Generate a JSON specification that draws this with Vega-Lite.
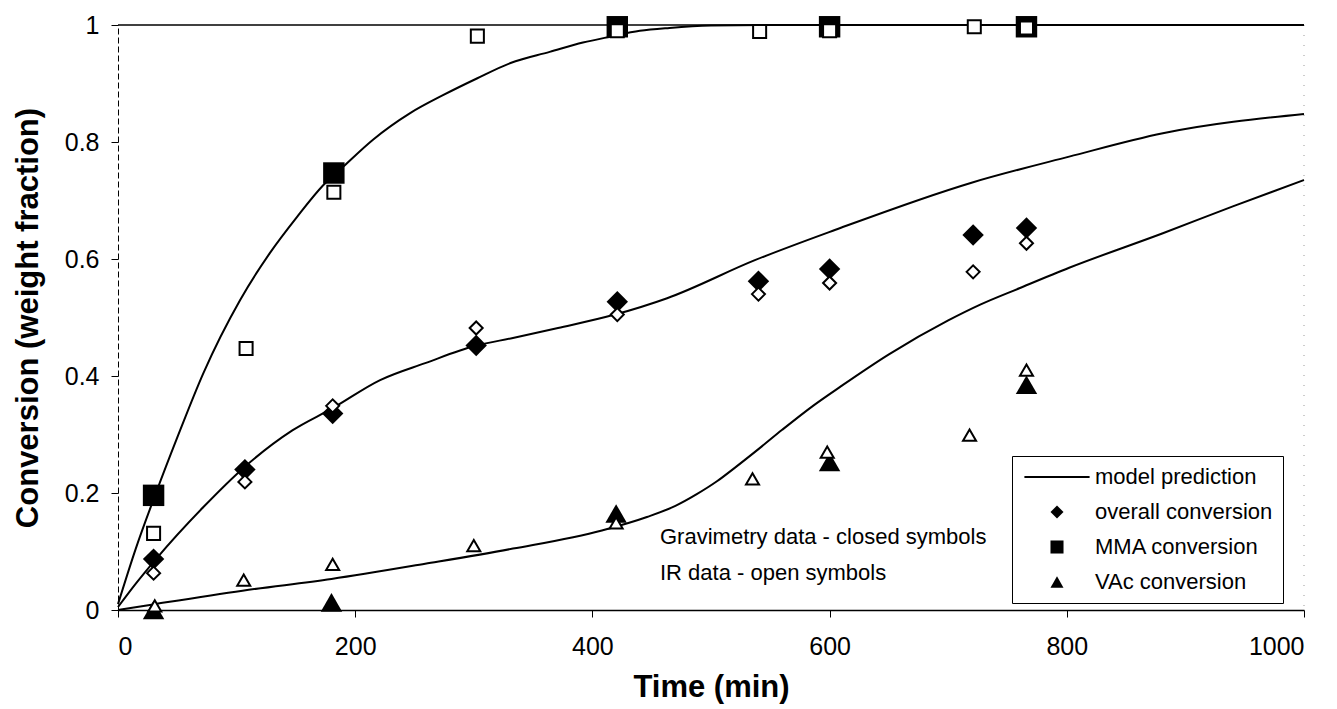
{
  "$schema": "https://vega.github.io/schema/vega-lite/v6.json",
  "width": 1186,
  "height": 585,
  "autosize": {"type": "none"},
  "padding": {"left": 118, "top": 25, "right": 33, "bottom": 99},
  "background": "white",
  "config": {
    "view": {"stroke": null},
    "font": "Liberation Sans",
    "axis": {
      "labelFont": "Liberation Sans",
      "labelFontSize": 25,
      "labelColor": "black",
      "titleFont": "Liberation Sans",
      "titleFontSize": 31,
      "titleFontWeight": "bold",
      "titleColor": "black",
      "domainColor": "black",
      "tickColor": "black",
      "tickSize": 7,
      "grid": false
    }
  },
  "datasets": {
    "model": [
      {"curve": "MMA", "t": 0, "v": 0.01},
      {"curve": "MMA", "t": 15, "v": 0.105},
      {"curve": "MMA", "t": 32, "v": 0.2},
      {"curve": "MMA", "t": 50, "v": 0.295},
      {"curve": "MMA", "t": 72, "v": 0.405},
      {"curve": "MMA", "t": 103, "v": 0.53},
      {"curve": "MMA", "t": 128, "v": 0.61},
      {"curve": "MMA", "t": 151, "v": 0.672},
      {"curve": "MMA", "t": 173, "v": 0.726},
      {"curve": "MMA", "t": 190, "v": 0.758},
      {"curve": "MMA", "t": 215, "v": 0.804},
      {"curve": "MMA", "t": 246, "v": 0.849},
      {"curve": "MMA", "t": 274, "v": 0.88},
      {"curve": "MMA", "t": 303, "v": 0.909},
      {"curve": "MMA", "t": 331, "v": 0.935},
      {"curve": "MMA", "t": 364, "v": 0.954},
      {"curve": "MMA", "t": 392, "v": 0.97},
      {"curve": "MMA", "t": 415, "v": 0.98},
      {"curve": "MMA", "t": 440, "v": 0.99},
      {"curve": "MMA", "t": 465, "v": 0.995},
      {"curve": "MMA", "t": 500, "v": 0.999},
      {"curve": "MMA", "t": 550, "v": 1},
      {"curve": "MMA", "t": 1000, "v": 1},
      {"curve": "overall", "t": 0, "v": 0.005},
      {"curve": "overall", "t": 15, "v": 0.045},
      {"curve": "overall", "t": 32, "v": 0.087},
      {"curve": "overall", "t": 72, "v": 0.176},
      {"curve": "overall", "t": 107, "v": 0.245},
      {"curve": "overall", "t": 147, "v": 0.307},
      {"curve": "overall", "t": 181, "v": 0.345},
      {"curve": "overall", "t": 221, "v": 0.393},
      {"curve": "overall", "t": 259, "v": 0.422},
      {"curve": "overall", "t": 302, "v": 0.452},
      {"curve": "overall", "t": 333, "v": 0.465},
      {"curve": "overall", "t": 371, "v": 0.482},
      {"curve": "overall", "t": 419, "v": 0.505},
      {"curve": "overall", "t": 463, "v": 0.533},
      {"curve": "overall", "t": 537, "v": 0.598},
      {"curve": "overall", "t": 605, "v": 0.65},
      {"curve": "overall", "t": 719, "v": 0.73},
      {"curve": "overall", "t": 802, "v": 0.775},
      {"curve": "overall", "t": 881, "v": 0.815},
      {"curve": "overall", "t": 1000, "v": 0.848},
      {"curve": "VAc", "t": 0, "v": 0},
      {"curve": "VAc", "t": 31, "v": 0.01},
      {"curve": "VAc", "t": 105, "v": 0.033},
      {"curve": "VAc", "t": 180, "v": 0.053},
      {"curve": "VAc", "t": 259, "v": 0.079},
      {"curve": "VAc", "t": 333, "v": 0.105},
      {"curve": "VAc", "t": 408, "v": 0.136},
      {"curve": "VAc", "t": 446, "v": 0.159},
      {"curve": "VAc", "t": 470, "v": 0.178},
      {"curve": "VAc", "t": 488, "v": 0.198},
      {"curve": "VAc", "t": 505, "v": 0.22},
      {"curve": "VAc", "t": 520, "v": 0.243},
      {"curve": "VAc", "t": 540, "v": 0.275},
      {"curve": "VAc", "t": 560, "v": 0.308},
      {"curve": "VAc", "t": 586, "v": 0.349},
      {"curve": "VAc", "t": 610, "v": 0.383},
      {"curve": "VAc", "t": 650, "v": 0.437},
      {"curve": "VAc", "t": 700, "v": 0.495},
      {"curve": "VAc", "t": 727, "v": 0.522},
      {"curve": "VAc", "t": 760, "v": 0.55},
      {"curve": "VAc", "t": 802, "v": 0.585},
      {"curve": "VAc", "t": 881, "v": 0.644},
      {"curve": "VAc", "t": 940, "v": 0.69},
      {"curve": "VAc", "t": 1000, "v": 0.735}
    ],
    "points": [
      {"series": "overall conversion", "method": "gravimetry", "t": 30, "v": 0.087},
      {"series": "overall conversion", "method": "gravimetry", "t": 107, "v": 0.24},
      {"series": "overall conversion", "method": "gravimetry", "t": 181, "v": 0.336},
      {"series": "overall conversion", "method": "gravimetry", "t": 302, "v": 0.452},
      {"series": "overall conversion", "method": "gravimetry", "t": 421, "v": 0.527},
      {"series": "overall conversion", "method": "gravimetry", "t": 540, "v": 0.562},
      {"series": "overall conversion", "method": "gravimetry", "t": 600, "v": 0.583},
      {"series": "overall conversion", "method": "gravimetry", "t": 721, "v": 0.641},
      {"series": "overall conversion", "method": "gravimetry", "t": 766, "v": 0.653},
      {"series": "MMA conversion", "method": "gravimetry", "t": 30, "v": 0.196},
      {"series": "MMA conversion", "method": "gravimetry", "t": 182, "v": 0.747},
      {"series": "MMA conversion", "method": "gravimetry", "t": 421, "v": 0.997},
      {"series": "MMA conversion", "method": "gravimetry", "t": 600, "v": 0.997},
      {"series": "MMA conversion", "method": "gravimetry", "t": 766, "v": 0.997},
      {"series": "VAc conversion", "method": "gravimetry", "t": 30, "v": 0.0},
      {"series": "VAc conversion", "method": "gravimetry", "t": 180, "v": 0.013},
      {"series": "VAc conversion", "method": "gravimetry", "t": 420, "v": 0.165},
      {"series": "VAc conversion", "method": "gravimetry", "t": 600, "v": 0.253},
      {"series": "VAc conversion", "method": "gravimetry", "t": 766, "v": 0.385},
      {"series": "overall conversion", "method": "IR", "t": 30, "v": 0.063},
      {"series": "overall conversion", "method": "IR", "t": 107, "v": 0.219},
      {"series": "overall conversion", "method": "IR", "t": 181, "v": 0.349},
      {"series": "overall conversion", "method": "IR", "t": 302, "v": 0.482},
      {"series": "overall conversion", "method": "IR", "t": 421, "v": 0.505},
      {"series": "overall conversion", "method": "IR", "t": 540, "v": 0.54},
      {"series": "overall conversion", "method": "IR", "t": 600, "v": 0.559},
      {"series": "overall conversion", "method": "IR", "t": 721, "v": 0.578},
      {"series": "overall conversion", "method": "IR", "t": 766, "v": 0.627},
      {"series": "MMA conversion", "method": "IR", "t": 30, "v": 0.131},
      {"series": "MMA conversion", "method": "IR", "t": 108, "v": 0.447},
      {"series": "MMA conversion", "method": "IR", "t": 182, "v": 0.714},
      {"series": "MMA conversion", "method": "IR", "t": 303, "v": 0.981},
      {"series": "MMA conversion", "method": "IR", "t": 421, "v": 0.99},
      {"series": "MMA conversion", "method": "IR", "t": 541, "v": 0.989},
      {"series": "MMA conversion", "method": "IR", "t": 600, "v": 0.99},
      {"series": "MMA conversion", "method": "IR", "t": 722, "v": 0.997},
      {"series": "MMA conversion", "method": "IR", "t": 766, "v": 0.995},
      {"series": "VAc conversion", "method": "IR", "t": 31, "v": 0.007},
      {"series": "VAc conversion", "method": "IR", "t": 106, "v": 0.051},
      {"series": "VAc conversion", "method": "IR", "t": 181, "v": 0.078},
      {"series": "VAc conversion", "method": "IR", "t": 300, "v": 0.11},
      {"series": "VAc conversion", "method": "IR", "t": 420, "v": 0.149},
      {"series": "VAc conversion", "method": "IR", "t": 535, "v": 0.224},
      {"series": "VAc conversion", "method": "IR", "t": 598, "v": 0.27},
      {"series": "VAc conversion", "method": "IR", "t": 718, "v": 0.299},
      {"series": "VAc conversion", "method": "IR", "t": 766, "v": 0.41}
    ]
  },
  "layer": [
    {
      "description": "frame line along the top of the plot",
      "data": {"values": [{}]},
      "mark": {"type": "rule", "color": "black", "strokeWidth": 1.5},
      "encoding": {"y": {"datum": 1, "type": "quantitative"}}
    },
    {
      "description": "faint dotted right edge",
      "data": {"values": [{}]},
      "mark": {"type": "rule", "color": "#999999", "strokeWidth": 1, "strokeDash": [1, 9]},
      "encoding": {"x": {"datum": 1000, "type": "quantitative"}}
    },
    {
      "description": "model prediction curves",
      "data": {"name": "model"},
      "mark": {"type": "line", "color": "black", "strokeWidth": 2, "interpolate": "monotone"},
      "encoding": {
        "x": {
          "field": "t",
          "type": "quantitative",
          "scale": {"domain": [0, 1000], "nice": false, "zero": true},
          "axis": {
            "title": "Time (min)",
            "values": [0, 200, 400, 600, 800, 1000],
            "format": "d",
            "labelPadding": 17,
            "titlePadding": 13,
            "domainWidth": 1.5
          }
        },
        "y": {
          "field": "v",
          "type": "quantitative",
          "scale": {"domain": [0, 1], "nice": false},
          "axis": {
            "title": "Conversion (weight fraction)",
            "values": [0, 0.2, 0.4, 0.6, 0.8, 1],
            "format": "~g",
            "labelPadding": 12,
            "titlePadding": 20,
            "domainDash": [6, 3],
            "domainWidth": 1
          }
        },
        "detail": {"field": "curve"}
      }
    },
    {
      "description": "gravimetry data, closed symbols",
      "data": {"name": "points"},
      "transform": [{"filter": "datum.method === 'gravimetry'"}],
      "mark": {"type": "point", "filled": true, "color": "black", "opacity": 1, "size": 460},
      "encoding": {
        "x": {"field": "t", "type": "quantitative"},
        "y": {"field": "v", "type": "quantitative"},
        "shape": {
          "field": "series",
          "type": "nominal",
          "scale": {
            "domain": ["model prediction", "overall conversion", "MMA conversion", "VAc conversion"],
            "range": ["M-5,-0.15H5V0.15H-5Z", "diamond", "square", "triangle-up"]
          },
          "legend": null
        }
      }
    },
    {
      "description": "IR data, open symbols",
      "data": {"name": "points"},
      "transform": [{"filter": "datum.method === 'IR'"}],
      "mark": {"type": "point", "fill": "white", "stroke": "black", "strokeWidth": 2, "opacity": 1, "size": 170},
      "encoding": {
        "x": {"field": "t", "type": "quantitative"},
        "y": {"field": "v", "type": "quantitative"},
        "shape": {
          "field": "series",
          "type": "nominal",
          "scale": {
            "domain": ["model prediction", "overall conversion", "MMA conversion", "VAc conversion"],
            "range": ["M-5,-0.15H5V0.15H-5Z", "diamond", "square", "triangle-up"]
          },
          "legend": null
        }
      }
    },
    {
      "description": "legend keys",
      "data": {"name": "points"},
      "transform": [{"filter": "false"}],
      "mark": {"type": "point", "filled": true, "color": "black", "opacity": 1},
      "encoding": {
        "shape": {
          "field": "series",
          "type": "nominal",
          "scale": {
            "domain": ["model prediction", "overall conversion", "MMA conversion", "VAc conversion"],
            "range": ["M-5,-0.15H5V0.15H-5Z", "diamond", "square", "triangle-up"]
          },
          "legend": {
            "title": null,
            "orient": "none",
            "legendX": 894,
            "legendY": 431,
            "padding": 10,
            "strokeColor": "black",
            "fillColor": "white",
            "labelFont": "Liberation Sans",
            "labelFontSize": 22,
            "labelColor": "black",
            "symbolSize": 170,
            "symbolOffset": 24,
            "labelOffset": 27,
            "rowPadding": 13,
            "labelLimit": 400,
            "symbolOpacity": 1,
            "symbolFillColor": "black"
          }
        }
      }
    },
    {
      "description": "note on the symbol convention",
      "data": {"values": [{}]},
      "mark": {
        "type": "text",
        "text": ["Gravimetry data - closed symbols", "IR data - open symbols"],
        "align": "left",
        "baseline": "middle",
        "lineHeight": 36,
        "fontSize": 22,
        "font": "Liberation Sans",
        "color": "black"
      },
      "encoding": {
        "x": {"datum": 457, "type": "quantitative"},
        "y": {"datum": 0.125, "type": "quantitative"}
      }
    }
  ],
  "resolve": {"legend": {"shape": "independent"}}
}
